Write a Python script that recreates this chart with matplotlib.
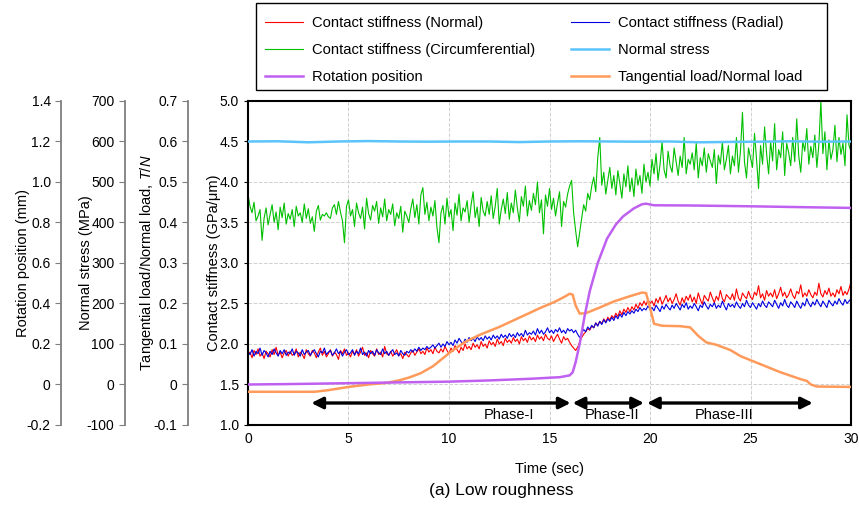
import numpy as np
import matplotlib
matplotlib.use("Agg")
import matplotlib.pyplot as plt
from matplotlib.patches import Rectangle

plt.rcParams["font.family"] = ["Liberation Sans", "DejaVu Sans"]
plt.rcParams["font.size"] = 10
plt.rcParams["mathtext.fontset"] = "custom"
plt.rcParams["mathtext.rm"] = "Liberation Sans"
plt.rcParams["mathtext.it"] = "Liberation Sans:italic"

# sampling grid of the stiffness signals (0.1 s step, 0-30 s)
time = np.linspace(0, 30, 301)

stiff_circ = [
    3.85,
    3.70, 3.62, 3.75, 3.52, 3.58, 3.66, 3.28, 3.55, 3.68, 3.47,
    3.60, 3.72, 3.50, 3.63, 3.41, 3.69, 3.56, 3.74, 3.48, 3.61,
    3.54, 3.66, 3.45, 3.70, 3.58, 3.62, 3.50, 3.73, 3.55, 3.67,
    3.49, 3.57, 3.39, 3.64, 3.71, 3.53, 3.60, 3.58, 3.62, 3.57,
    3.55, 3.68, 3.72, 3.60, 3.76, 3.63, 3.52, 3.25, 3.70, 3.78,
    3.58, 3.66, 3.45, 3.74, 3.62, 3.55, 3.69, 3.42, 3.80, 3.61,
    3.53, 3.71, 3.64, 3.76, 3.49, 3.68, 3.57, 3.79, 3.52, 3.66,
    3.60, 3.73, 3.46, 3.62, 3.55, 3.70, 3.38, 3.64, 3.58, 3.50,
    3.67, 3.79, 3.56, 3.72, 3.48, 3.84, 3.93, 3.60, 3.75, 3.52,
    3.69, 3.58, 3.77, 3.44, 3.25, 3.62, 3.71, 3.48, 3.80, 3.57,
    3.66, 3.40, 3.74, 3.59, 3.85, 3.52, 3.68, 3.63, 3.77, 3.50,
    3.72, 3.88, 3.56, 3.69, 3.45, 3.81, 3.64, 3.58, 3.76, 3.60,
    3.83, 3.55, 3.70, 3.92, 3.48, 3.66, 3.79, 3.61, 3.87, 3.54,
    3.74, 3.62, 3.90, 3.68, 3.51, 3.82, 3.70, 3.95, 3.58, 3.77,
    3.65, 3.86, 3.72, 4.00, 3.62, 3.78, 3.36, 3.84, 3.70, 3.92,
    3.66, 3.80, 3.58, 3.74, 3.88, 3.45, 3.76, 3.69, 3.85, 3.95,
    4.02, 3.62, 3.40, 3.20, 3.38, 3.55, 3.72, 3.64, 3.86, 3.78,
    3.95, 4.06, 3.88, 4.30, 4.55, 3.96, 4.12, 3.85, 4.02, 4.18,
    3.92, 4.08, 3.84, 4.14, 3.98, 3.80, 4.10, 3.94, 4.20, 3.88,
    4.05, 3.82, 4.16, 3.96, 4.08, 3.86, 4.22, 4.00, 4.12, 3.95,
    4.28, 4.10, 4.35, 4.02, 4.22, 4.50, 4.15, 4.05, 4.38, 4.20,
    4.12, 4.42, 4.25, 4.08, 4.32, 4.18, 4.55, 4.10, 4.28, 4.22,
    4.36, 4.15, 4.48, 4.05, 4.30, 4.20, 4.42, 4.12, 4.35, 4.26,
    4.18, 4.40, 3.98, 4.33, 4.22, 4.50, 4.15, 4.28, 4.45, 4.10,
    4.32, 4.20, 4.55, 4.12, 4.38, 4.86, 4.25, 4.05, 4.42, 4.30,
    4.18, 4.60, 4.28, 3.92, 4.45, 4.22, 4.68, 4.35, 4.10, 4.50,
    4.26, 4.72, 4.15, 4.40, 4.30, 4.62, 4.08, 4.48, 4.36, 4.20,
    4.55, 4.25, 4.78, 4.32, 4.12, 4.50, 4.38, 4.66, 4.22, 4.44,
    4.30, 4.58, 4.18, 4.46, 5.00, 4.35, 4.62, 4.15, 4.52, 4.28,
    4.40, 4.70, 4.25, 4.55, 4.34, 4.48, 4.20, 4.83, 4.45, 4.38,
]

stiff_normal = [
    1.86,
    1.90, 1.83, 1.92, 1.87, 1.94, 1.85, 1.89, 1.82, 1.91, 1.88,
    1.84, 1.93, 1.87, 1.96, 1.86, 1.90, 1.83, 1.89, 1.92, 1.85,
    1.91, 1.86, 1.88, 1.94, 1.84, 1.90, 1.87, 1.82, 1.93, 1.88,
    1.85, 1.92, 1.89, 1.83, 1.90, 1.95, 1.86, 1.91, 1.84, 1.88,
    1.93, 1.85, 1.90, 1.87, 1.81, 1.92, 1.88, 1.94, 1.86, 1.89,
    1.84, 1.91, 1.87, 1.93, 1.85, 1.90, 1.96, 1.86, 1.89, 1.83,
    1.92, 1.88, 1.85, 1.94, 1.87, 1.90, 1.84, 1.97, 1.88, 1.86,
    1.91, 1.85, 1.89, 1.93, 1.86, 1.88, 1.82, 1.90, 1.87, 1.84,
    1.89, 1.92, 1.86, 1.90, 1.94, 1.88, 1.91, 1.87, 1.95, 1.90,
    1.93, 1.88, 1.96, 1.91, 1.89, 1.94, 1.90, 1.97, 1.92, 1.88,
    1.95, 1.91, 1.98, 1.93, 1.89, 1.96, 1.92, 2.00, 1.94, 1.97,
    1.93, 2.01, 1.96, 1.99, 1.94, 2.03, 1.97, 2.00, 1.95, 2.04,
    1.99, 2.02, 1.97, 2.06, 2.00, 2.03, 1.98, 2.07, 2.02, 2.05,
    2.01, 2.08, 2.03, 2.06, 2.00, 2.09, 2.04, 2.07, 2.02, 2.10,
    2.05, 2.08, 2.03, 2.11, 2.06, 2.09, 2.04, 2.12, 2.07, 2.05,
    2.10, 2.03, 2.08, 2.12, 2.06, 2.01, 2.09, 2.05, 2.07, 2.02,
    1.98, 1.95, 1.92, 1.96, 2.02, 2.08, 2.12, 2.15, 2.19, 2.17,
    2.22, 2.20, 2.26, 2.23, 2.28, 2.25, 2.31, 2.27, 2.33, 2.30,
    2.35, 2.32, 2.38, 2.34, 2.41, 2.36, 2.43, 2.39, 2.45, 2.40,
    2.46, 2.42, 2.49, 2.44, 2.51, 2.47, 2.53, 2.48, 2.55, 2.50,
    2.53, 2.47, 2.56, 2.51, 2.58, 2.49, 2.54, 2.60, 2.52, 2.57,
    2.50, 2.55, 2.62, 2.53, 2.48, 2.57, 2.51, 2.59, 2.54, 2.61,
    2.52, 2.58, 2.50, 2.63, 2.55, 2.49, 2.60, 2.56, 2.53, 2.64,
    2.57, 2.51, 2.59, 2.54, 2.66, 2.56, 2.52, 2.61, 2.58, 2.55,
    2.62, 2.54, 2.68, 2.57, 2.53, 2.63, 2.59, 2.56, 2.65, 2.58,
    2.55, 2.64, 2.60, 2.72, 2.57, 2.62, 2.54, 2.66, 2.59, 2.63,
    2.58, 2.67, 2.56, 2.62, 2.70, 2.59, 2.64, 2.57, 2.61, 2.68,
    2.60, 2.56, 2.65, 2.62, 2.73, 2.58, 2.63, 2.59, 2.67, 2.61,
    2.57, 2.64, 2.60, 2.75, 2.62, 2.58, 2.66, 2.61, 2.69, 2.59,
    2.63, 2.58, 2.67, 2.62, 2.71, 2.60, 2.65, 2.61, 2.68, 2.77,
]

stiff_radial = [
    1.90,
    1.87, 1.93, 1.85, 1.91, 1.88, 1.95, 1.86, 1.92, 1.89, 1.84,
    1.91, 1.87, 1.94, 1.89, 1.85, 1.92, 1.88, 1.93, 1.86, 1.90,
    1.88, 1.94, 1.86, 1.91, 1.89, 1.85, 1.93, 1.87, 1.90, 1.92,
    1.86, 1.90, 1.93, 1.88, 1.84, 1.91, 1.89, 1.95, 1.87, 1.90,
    1.92, 1.86, 1.89, 1.94, 1.88, 1.91, 1.85, 1.90, 1.93, 1.87,
    1.89, 1.93, 1.86, 1.91, 1.88, 1.95, 1.87, 1.90, 1.85, 1.92,
    1.88, 1.91, 1.86, 1.93, 1.89, 1.87, 1.94, 1.88, 1.91, 1.86,
    1.90, 1.93, 1.87, 1.89, 1.85, 1.92, 1.88, 1.86, 1.91, 1.89,
    1.93, 1.90, 1.94, 1.91, 1.96, 1.92, 1.95, 1.93, 1.97, 1.94,
    1.96, 1.99, 1.95, 1.98, 2.01, 1.96, 2.00, 1.97, 2.03, 1.99,
    2.02, 1.98, 2.05, 2.01, 2.07, 2.03, 2.00, 2.06, 2.02, 2.08,
    2.04, 2.07, 2.03, 2.09, 2.05, 2.08, 2.04, 2.10, 2.06, 2.09,
    2.05, 2.11, 2.07, 2.10, 2.06, 2.12, 2.08, 2.11, 2.07, 2.13,
    2.09, 2.12, 2.08, 2.14, 2.10, 2.13, 2.09, 2.17, 2.11, 2.14,
    2.12, 2.16, 2.11, 2.19, 2.13, 2.17, 2.12, 2.15, 2.20, 2.14,
    2.17, 2.13, 2.18, 2.15, 2.20, 2.14, 2.17, 2.13, 2.19, 2.16,
    2.18, 2.14, 2.17, 2.12, 2.08, 2.13, 2.18, 2.15, 2.21, 2.18,
    2.23, 2.20, 2.26, 2.22, 2.28, 2.24, 2.30, 2.26, 2.31, 2.28,
    2.33, 2.29, 2.35, 2.31, 2.37, 2.33, 2.39, 2.35, 2.40, 2.37,
    2.41, 2.38, 2.43, 2.40, 2.45, 2.41, 2.44, 2.42, 2.47, 2.43,
    2.45, 2.41, 2.48, 2.44, 2.40, 2.47, 2.43, 2.49, 2.45, 2.42,
    2.48, 2.44, 2.50, 2.46, 2.42, 2.49, 2.45, 2.51, 2.43, 2.47,
    2.44, 2.50, 2.46, 2.41, 2.48, 2.45, 2.52, 2.47, 2.43, 2.49,
    2.46, 2.51, 2.44, 2.48, 2.45, 2.53, 2.47, 2.42, 2.50, 2.46,
    2.49, 2.45, 2.52, 2.47, 2.44, 2.50, 2.46, 2.54, 2.48, 2.45,
    2.51, 2.47, 2.43, 2.50, 2.46, 2.53, 2.48, 2.45, 2.52, 2.49,
    2.46, 2.54, 2.49, 2.44, 2.51, 2.47, 2.55, 2.48, 2.45, 2.52,
    2.49, 2.45, 2.53, 2.48, 2.44, 2.51, 2.47, 2.56, 2.50, 2.46,
    2.52, 2.48, 2.55, 2.50, 2.46, 2.53, 2.49, 2.45, 2.54, 2.50,
    2.47, 2.53, 2.49, 2.56, 2.51, 2.48, 2.55, 2.50, 2.53, 2.56,
]

stress_t = [0, 1.5, 3, 4.5, 6, 7.5, 9, 10.5, 12, 13.5, 15, 16.5, 18, 19.5,
            21, 22.5, 24, 25.5, 27, 28.5, 30]
stress_mpa = [600, 600.5, 598, 600, 601, 600, 599.5, 600, 600, 598.5, 600,
              600.5, 600, 599.5, 600, 598, 599, 599.5, 600.5, 599.5, 600]

rot_t = [0, 2, 4, 6, 8, 10, 12, 14, 15.5, 16.0, 16.15, 16.3, 16.5, 16.75,
         17.0, 17.4, 17.86, 18.3, 18.66, 19.2, 19.6, 19.8, 20.2, 22, 25, 28, 30]
rot_mm = [0.0, 0.002, 0.005, 0.008, 0.011, 0.014, 0.02, 0.028, 0.036, 0.045,
          0.06, 0.11, 0.2, 0.34, 0.46, 0.6, 0.72, 0.79, 0.83, 0.87, 0.89,
          0.893, 0.885, 0.884, 0.88, 0.875, 0.872]

tn_t = [0, 3.3, 4.0, 5.0, 6.0, 6.9, 7.5, 8.0, 8.6, 9.2, 9.7, 10.2, 10.8, 11.5,
        12.5, 13.5, 14.5, 15.3, 15.8, 16.0, 16.15, 16.3, 16.5, 16.8, 17.5,
        18.2, 19.0, 19.6, 19.8, 20.0, 20.2, 20.6, 21.5, 22.0, 22.4, 22.8,
        23.3, 24.0, 24.5, 25.5, 26.5, 27.5, 27.8, 28.0, 28.3, 30]
tn_ratio = [-0.018, -0.018, -0.014, -0.006, 0.0, 0.004, 0.01, 0.017, 0.028,
            0.045, 0.065, 0.085, 0.105, 0.122, 0.142, 0.165, 0.188, 0.205,
            0.218, 0.224, 0.222, 0.195, 0.175, 0.176, 0.19, 0.205, 0.218,
            0.227, 0.226, 0.19, 0.15, 0.145, 0.144, 0.141, 0.12, 0.104,
            0.098, 0.085, 0.07, 0.05, 0.03, 0.013, 0.009, 0.0, -0.005, -0.006]

phases = [("Phase-I", 3.15, 16.05), ("Phase-II", 16.15, 19.7), ("Phase-III", 19.85, 28.1)]
phase_label_x = [13.0, 18.1, 23.7]


def side_axis(ax, pos, ylim, ticks, ticklabels, label, label_x):
    tw = ax.twinx()
    tw.patch.set_visible(False)
    for s in ("top", "bottom", "right"):
        tw.spines[s].set_visible(False)
    tw.spines["left"].set_visible(True)
    tw.spines["left"].set_position(("axes", pos))
    tw.spines["left"].set_color("#7f7f7f")
    tw.spines["left"].set_linewidth(1.3)
    tw.yaxis.set_ticks_position("left")
    tw.yaxis.set_label_position("left")
    tw.set_ylim(*ylim)
    tw.set_yticks(ticks, ticklabels)
    tw.tick_params(axis="y", direction="out", length=4, color="#7f7f7f",
                   labelsize=10)
    tw.set_ylabel(label, fontsize=10.5)
    tw.yaxis.set_label_coords(label_x, 0.5)
    return tw


fig = plt.figure(figsize=(8.59, 5.08), dpi=100)
ax = fig.add_axes([0.2887, 0.1634, 0.702, 0.6378])

l_norm, = ax.plot(time, stiff_normal, color="#ff0000", lw=0.8)
l_rad, = ax.plot(time, stiff_radial, color="#0000e0", lw=0.8)
l_circ, = ax.plot(time, stiff_circ, color="#00c000", lw=0.8)

ax.set_xlim(0, 30)
ax.set_ylim(1.0, 5.0)
ax.set_xticks(np.arange(0, 31, 5))
ax.set_yticks(np.arange(1.0, 5.01, 0.5))
ax.yaxis.set_major_formatter(matplotlib.ticker.FormatStrFormatter("%.1f"))
ax.grid(True, color="#d0d0d0", ls="--", lw=0.7)
ax.tick_params(axis="y", direction="out", length=3, labelsize=10)
ax.tick_params(axis="x", direction="out", length=0, pad=5, labelsize=10)
for s in ax.spines.values():
    s.set_linewidth(1.5)
ax.set_xlabel("Time (sec)", fontsize=10.5)
ax.xaxis.set_label_coords(0.5, -0.113)
ax.set_ylabel("Contact stiffness (GPa/μm)", fontsize=10.5)
ax.yaxis.set_label_coords(-0.045, 0.5)

ax_tn = side_axis(ax, -0.0995, (-0.1, 0.7), [-0.1, 0, 0.1, 0.2, 0.3, 0.4, 0.5, 0.6, 0.7],
                  ["-0.1", "0", "0.1", "0.2", "0.3", "0.4", "0.5", "0.6", "0.7"],
                  "Tangential load/Normal load, $T/N$", -0.152)
ax_st = side_axis(ax, -0.204, (-100, 700), list(range(-100, 701, 100)),
                  [str(v) for v in range(-100, 701, 100)],
                  "Normal stress (MPa)", -0.257)
ax_rot = side_axis(ax, -0.310, (-0.2, 1.4), [-0.2, 0, 0.2, 0.4, 0.6, 0.8, 1.0, 1.2, 1.4],
                   ["-0.2", "0", "0.2", "0.4", "0.6", "0.8", "1.0", "1.2", "1.4"],
                   "Rotation position (mm)", -0.362)

l_st, = ax_st.plot(stress_t, stress_mpa, color="#5bc4fa", lw=1.8)
l_rot, = ax_rot.plot(rot_t, rot_mm, color="#c060f0", lw=1.8)
l_tn, = ax_tn.plot(tn_t, tn_ratio, color="#ff9a5a", lw=1.8)

# phase arrows on top
for (name, x0, x1), lx in zip(phases, phase_label_x):
    ax_rot.annotate("", xy=(x1, -0.0914), xytext=(x0, -0.0914),
                    arrowprops=dict(arrowstyle="<|-|>", color="black", lw=2.4,
                                    mutation_scale=17, shrinkA=0, shrinkB=0))
    ax_rot.text(lx, -0.1506, name, ha="center", va="center", fontsize=10.5)

leg = fig.legend([l_norm, l_circ, l_rot, l_rad, l_st, l_tn],
                 ["Contact stiffness (Normal)", "Contact stiffness (Circumferential)",
                  "Rotation position", "Contact stiffness (Radial)", "Normal stress",
                  "Tangential load/Normal load"],
                 ncol=2, loc="upper left", bbox_to_anchor=(256 / 859, 1 - 7 / 508),
                 frameon=False, borderaxespad=0, borderpad=0.6,
                 handlelength=2.6, handletextpad=0.6, labelspacing=0.88,
                 columnspacing=2.45, fontsize=10.6)
fig.patches.append(Rectangle((256 / 859, 1 - 90 / 508), 571 / 859, 87 / 508,
                             transform=fig.transFigure, fill=False,
                             edgecolor="black", lw=1.0))

fig.text(501 / 859, 1 - 490 / 508, "(a) Low roughness", ha="center", va="center",
         fontsize=12.5)

fig.savefig("out.png", dpi=100)
